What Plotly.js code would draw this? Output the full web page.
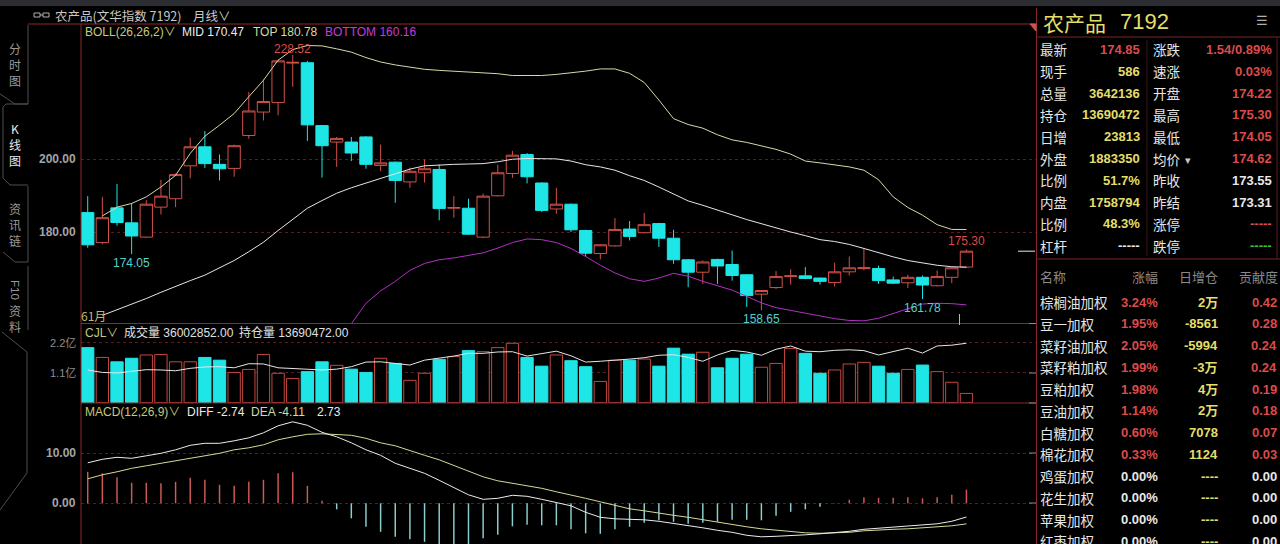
<!DOCTYPE html>
<html><head><meta charset="utf-8">
<script src="https://cdn.plot.ly/plotly-3.0.1.min.js"></script>
<style>html,body{margin:0;padding:0;background:#000;overflow:hidden}#chart{width:1280px;height:544px}</style>
</head><body><div id="chart"></div>
<script>
// ---------- data (monthly) ----------
const openP  = [185.4,177.2,186.7,182.6,178.7,186.9,189.2,198.2,203.4,198.6,197.5,206.5,212.9,215.5,226.3,226.4,209.2,204.7,204.7,206.1,198.3,199.2,193.8,196.3,197.2,186.6,186.6,178.7,190.0,196.1,201.3,193.5,186.4,187.7,180.5,174.2,176.3,180.9,179.9,182.4,178.4,172.5,169.1,172.6,171.2,168.4,163.1,164.9,167.9,168.1,167.5,166.3,169.2,170.1,170.1,167.0,166.2,167.7,165.4,167.7,170.5];
const highP  = [189.9,189.7,193.2,188.0,188.8,194.4,196.1,205.9,207.7,201.3,204.0,218.4,221.8,227.2,228.52,226.9,209.4,206.1,206.1,206.3,204.0,199.4,197.7,199.9,198.5,189.9,189.2,190.6,198.5,202.3,201.7,193.7,192.2,187.9,180.7,176.8,183.9,183.1,185.3,182.6,180.7,172.7,172.3,172.8,175.0,168.6,164.2,169.4,169.9,170.5,167.6,171.7,173.4,175.7,170.9,167.9,168.4,168.2,169.6,170.5,175.30];
const lowP   = [175.8,176.7,181.8,174.05,178.5,184.9,186.9,194.8,197.6,194.2,195.2,205.6,210.6,212.0,219.8,205.0,195.0,197.9,199.5,197.4,196.7,188.1,192.2,193.6,183.3,184.0,179.3,178.4,189.8,194.9,193.4,185.6,185.1,180.1,173.4,172.6,176.1,177.8,179.7,176.0,171.4,165.0,165.9,165.9,166.8,159.6,158.65,164.5,165.7,167.2,165.7,165.2,168.2,169.6,165.9,165.9,164.8,161.78,165.2,166.1,170.3];
const closeP = [176.6,184.0,182.7,179.0,187.7,189.9,195.8,203.4,198.8,197.4,203.7,213.2,215.8,226.9,226.5,209.4,203.7,205.7,201.7,198.6,199.0,194.2,196.7,197.4,186.5,186.8,179.5,189.9,196.3,201.1,195.2,186.0,187.7,180.7,174.3,176.6,180.8,178.9,182.1,178.4,172.5,169.1,171.9,170.8,168.2,162.7,164.1,167.9,168.1,167.4,166.6,169.2,170.3,170.3,166.8,166.1,167.7,165.6,167.9,170.3,174.85];

const bollUpper = [null,184.5,186.9,187.9,189.7,192.4,195.6,201.6,206.3,209.3,212.5,217.1,221.6,227.1,230.0,231.1,231.0,230.2,229.3,227.8,226.6,225.8,225.1,224.6,224.3,224.1,224.0,223.7,223.4,222.9,222.8,222.9,223.2,223.6,224.1,224.7,224.7,223.5,221.0,216.2,211.1,209.5,208.5,206.7,205.3,204.6,203.7,202.7,201.4,199.5,199.0,198.4,197.9,197.0,194.4,189.7,186.8,184.7,182.1,180.8,180.78];
const bollMid   = [null,157.3,158.8,160.4,161.9,163.6,165.3,166.8,168.3,170.2,172.3,174.7,177.3,180.5,183.6,186.6,188.7,190.7,192.2,193.5,194.7,195.9,197.3,198.2,198.5,198.6,198.7,198.8,199.3,200.0,200.2,200.2,200.1,199.5,198.5,197.9,197.0,195.5,194.2,192.4,190.6,188.6,187.4,186.2,184.8,183.5,182.3,181.3,180.1,179.1,178.0,177.5,176.7,175.6,174.4,173.3,172.3,171.6,171.0,170.6,170.47];
const bollLower = [null,130.1,130.7,132.9,134.1,134.8,135.0,132.0,130.3,131.1,132.1,132.9,134.0,134.1,137.4,142.3,146.8,151.6,155.0,160.6,164.0,166.6,169.6,171.5,172.5,173.0,173.6,174.4,175.7,177.2,178.2,178.0,177.2,175.6,173.4,171.0,168.9,167.3,166.6,167.5,168.8,168.0,166.6,165.5,164.2,162.5,160.7,159.4,158.6,158.0,157.2,156.4,155.9,155.8,156.5,157.8,159.0,160.4,160.6,160.5,160.16];

// volume in 亿
const volume = [2.02,1.66,1.50,1.63,1.75,1.77,1.50,1.50,1.66,1.56,1.11,1.22,1.77,1.08,0.89,1.14,1.50,1.37,1.23,1.11,1.63,1.44,0.82,1.08,1.59,1.69,1.91,1.87,2.02,2.18,1.66,1.34,1.75,1.54,1.32,0.78,1.56,1.56,1.60,1.34,2.00,1.78,1.85,1.28,1.63,1.78,1.30,1.44,1.99,1.81,1.08,1.20,1.42,1.48,1.34,1.08,1.22,1.38,1.14,0.75,0.34];
const volMA  = [1.20,1.11,1.09,1.14,1.21,1.20,1.17,1.26,1.31,1.32,1.28,1.43,1.42,1.28,1.26,1.23,1.20,1.23,1.32,1.49,1.50,1.44,1.38,1.56,1.63,1.71,1.81,1.81,1.86,1.87,1.71,1.81,1.89,1.72,1.49,1.52,1.55,1.60,1.65,1.74,1.76,1.66,1.52,1.75,1.92,1.86,1.74,1.96,2.08,1.89,1.87,1.92,1.94,1.91,1.75,1.87,2.00,1.82,2.08,2.11,2.18];

const macdDiff = [8.1,8.8,9.2,9.0,9.5,10.0,10.7,11.6,12.0,12.0,12.5,13.1,14.1,15.5,16.3,15.6,14.2,13.3,12.1,10.7,9.6,8.0,7.0,6.0,4.6,3.2,1.7,0.8,1.0,1.6,1.4,0.8,0.1,-0.5,-1.8,-2.8,-3.1,-3.2,-3.3,-3.6,-4.0,-4.5,-4.9,-5.4,-5.8,-6.4,-6.7,-6.6,-6.5,-6.3,-6.1,-5.9,-5.6,-5.2,-5.0,-4.8,-4.6,-4.4,-4.1,-3.6,-2.74];
const macdDea  = [4.9,5.7,6.3,7.0,7.5,8.0,8.4,8.9,9.5,10.0,10.7,11.1,11.7,12.7,13.3,13.8,13.9,13.7,13.6,13.0,12.1,11.5,10.5,9.6,8.7,7.6,6.5,5.3,4.5,4.0,3.5,3.0,2.3,1.7,1.0,0.3,-0.4,-1.1,-1.5,-2.0,-2.4,-2.8,-3.3,-3.8,-4.2,-4.7,-5.1,-5.4,-5.7,-5.9,-6.0,-5.9,-5.8,-5.5,-5.3,-5.2,-5.1,-4.9,-4.7,-4.5,-4.11];
const macdHist = [6.3,6.0,5.2,4.1,4.1,4.0,4.3,5.1,4.7,3.7,3.5,4.3,4.7,6.0,6.2,3.5,0.5,-1.2,-3.0,-4.7,-5.7,-6.7,-7.2,-7.7,-8.3,-8.6,-8.4,-7.0,-6.3,-4.6,-4.3,-4.4,-4.4,-5.2,-6.0,-6.1,-5.2,-4.7,-3.9,-3.4,-3.7,-4.1,-3.9,-3.7,-3.3,-3.3,-3.4,-2.5,-1.7,-1.2,-0.7,0.05,0.7,1.2,1.1,1.1,1.2,1.0,1.2,1.7,2.73];

const priceTicks = [180, 200];
const volTicks = [1.1, 2.2];
const volTickText = ['1.1亿', '2.2亿'];
const macdTicks = [0, 10];

// left side tabs
const tabChars = [['分','时','图'], ['K','线','图'], ['资','讯','链'], ['资','料']];
const tabTop = [48, 128, 208, 310];

// right panel quote
const quoteLabelsL = ['最新','现手','总量','持仓','日增','外盘','比例','内盘','比例','杠杆'];
const quoteValuesL = ['174.85','586','3642136','13690472','23813','1883350','51.7%','1758794','48.3%','-----'];
const quoteColorsL = ['r','y','y','y','y','y','y','y','y','w'];
const quoteLabelsR = ['涨跌','速涨','开盘','最高','最低','均价','昨收','昨结','涨停','跌停'];
const quoteValuesR = ['1.54/0.89%','0.03%','174.22','175.30','174.05','174.62','173.55','173.31','-----','-----'];
const quoteColorsR = ['r','r','r','r','r','r','w','w','r','g'];

const compNames  = ['棕榈油加权','豆一加权','菜籽油加权','菜籽粕加权','豆粕加权','豆油加权','白糖加权','棉花加权','鸡蛋加权','花生加权','苹果加权','红枣加权'];
const compChange = ['3.24%','1.95%','2.05%','1.99%','1.98%','1.14%','0.60%','0.33%','0.00%','0.00%','0.00%','0.00%'];
const compPosChg = ['2万','-8561','-5994','-3万','4万','2万','7078','1124','----','----','----','----'];
const compContrib= ['0.42','0.28','0.24','0.24','0.19','0.18','0.07','0.03','0.00','0.00','0.00','0.00'];

// ---------- helpers ----------
const W = 1280, H = 544;
const fx = v => v / W, fy = v => 1 - v / H;
const SANS = '"Liberation Sans", Arial, "Noto Sans CJK SC", sans-serif';
const CJK = '"Noto Sans CJK SC", "Liberation Sans", sans-serif';
const RED = '#d2504a', CYAN = '#1fe6e6', YEL = '#e4de6a', GRID = '#5e1a1a', BORDER = '#8c2828';
const TXTRED = '#dc4a4a', LOWC = '#55d0d0', GREY = '#a4a4a4';
const colorOf = {r: TXTRED, y: YEL, w: '#e8e8e8', g: '#3cc43c'};

const annotations = [], shapes = [];
function T(text, x, y, o = {}) {
  annotations.push({text, x: fx(x), y: fy(y), xref: 'paper', yref: 'paper', showarrow: false,
    xanchor: o.xa || 'left', yanchor: o.ya || 'middle', textangle: o.ang || 0, borderpad: 0,
    font: {family: o.ff || SANS, size: o.s || 12, color: o.c || '#e0e0e0', weight: o.w || 'normal'}});
}
function L(x0, y0, x1, y1, color, width) {
  shapes.push({type: 'line', xref: 'paper', yref: 'paper', x0: fx(x0), y0: fy(y0), x1: fx(x1), y1: fy(y1),
    line: {color: color, width: width || 1}});
}
function P(pts, color, fill) {
  const d = pts.map((p, i) => (i ? 'L' : 'M') + fx(p[0]).toFixed(5) + ',' + fy(p[1]).toFixed(5)).join(' ') + (fill ? ' Z' : '');
  const s = {type: 'path', xref: 'paper', yref: 'paper', path: d, line: {color: color, width: 1}};
  if (fill) s.fillcolor = fill;
  shapes.push(s);
}

const idx = closeP.map((_, i) => i);
const isUp = closeP.map((c, i) => c >= openP[i]);

// ---------- traces ----------
const traces = [];
traces.push({type: 'candlestick', x: idx, open: openP, high: highP, low: lowP, close: closeP,
  xaxis: 'x', yaxis: 'y', whiskerwidth: 0, hoverinfo: 'skip',
  increasing: {line: {color: RED, width: 1}, fillcolor: '#000000'},
  decreasing: {line: {color: CYAN, width: 1}, fillcolor: CYAN}});
traces.push({type: 'scatter', mode: 'lines', x: idx, y: bollUpper, xaxis: 'x', yaxis: 'y', line: {color: '#d8d8a8', width: 1}, hoverinfo: 'skip'});
traces.push({type: 'scatter', mode: 'lines', x: idx, y: bollMid, xaxis: 'x', yaxis: 'y', line: {color: '#e6e6e6', width: 1}, hoverinfo: 'skip'});
traces.push({type: 'scatter', mode: 'lines', x: idx, y: bollLower, xaxis: 'x', yaxis: 'y', line: {color: '#b430c4', width: 1}, hoverinfo: 'skip'});

traces.push({type: 'bar', x: idx, y: volume, xaxis: 'x', yaxis: 'y2', width: 0.84, hoverinfo: 'skip',
  marker: {color: isUp.map(u => u ? '#000000' : CYAN), line: {color: isUp.map(u => u ? '#c4483f' : CYAN), width: 1}}});
traces.push({type: 'scatter', mode: 'lines', x: idx, y: volMA, xaxis: 'x', yaxis: 'y2', line: {color: '#e6e6e6', width: 1}, hoverinfo: 'skip'});

traces.push({type: 'bar', x: idx, y: macdHist, xaxis: 'x', yaxis: 'y3', width: 0.1, hoverinfo: 'skip',
  marker: {color: macdHist.map(v => v >= 0 ? '#cf5a55' : '#8ccfcf'), line: {width: 0}}});
traces.push({type: 'scatter', mode: 'lines', x: idx, y: macdDea, xaxis: 'x', yaxis: 'y3', line: {color: '#d8d896', width: 1}, hoverinfo: 'skip'});
traces.push({type: 'scatter', mode: 'lines', x: idx, y: macdDiff, xaxis: 'x', yaxis: 'y3', line: {color: '#ececec', width: 1}, hoverinfo: 'skip'});

// ---------- frame / decorations ----------
shapes.push({type: 'rect', xref: 'paper', yref: 'paper', x0: 0, x1: 1, y0: fy(6), y1: 1, fillcolor: '#2b2d33', line: {width: 0}});
L(28, 24, 1036, 24, BORDER);
L(81, 24, 81, 544, BORDER);
L(1036.5, 8, 1036.5, 544, BORDER);
L(81, 323.5, 1036, 323.5, BORDER);
L(81, 403, 1036, 403, BORDER);
P([[1030, 24], [1036, 24], [1036, 31]], RED, RED);
// right panel lines
L(1037, 37, 1280, 37, '#7a2424');
L(1037, 259, 1280, 259, '#7a2424');
L(1147, 40, 1147, 256, '#3c1414');
L(1277, 37, 1277, 259, '#5a1a1a');
// right edge ticks
[323.5, 373, 403, 453, 503].forEach(y => L(1029, y, 1036, y, '#8a8a8a'));
// current price marker & cursor
shapes.push({type: 'line', xref: 'paper', yref: 'y', x0: fx(1018), x1: fx(1035), y0: closeP[closeP.length - 1], y1: closeP[closeP.length - 1], line: {color: '#e8e8e8', width: 1}});
L(959.5, 314, 959.5, 325, '#b8b8b8');
// left tabs
const TAB = '#4e4e4e';
P([[28, 25], [28, 104], [15, 104], [0, 94]], TAB);
P([[28, 104], [6, 104], [3, 107], [3, 178], [10, 185], [28, 185]], TAB);
P([[28, 186], [28, 262], [15, 262], [3, 252]], TAB);
L(28, 266, 28, 330, TAB);
P([[2, 332], [27, 352], [27, 473], [0, 510]], TAB);
// header icon
shapes.push({type: 'rect', xref: 'paper', yref: 'paper', x0: fx(34), x1: fx(40), y0: fy(17), y1: fy(13), line: {color: '#b0b0b0', width: 1}});
shapes.push({type: 'rect', xref: 'paper', yref: 'paper', x0: fx(43), x1: fx(49), y0: fy(17), y1: fy(13), line: {color: '#b0b0b0', width: 1}});
L(40, 15, 43, 15, '#b0b0b0');

// ---------- texts ----------
T('农产品(文华指数 7192)', 54, 15, {ff: CJK, s: 12.5, c: '#c8c8c8'});
T('月线∨', 192, 15, {ff: CJK, s: 12.5, c: '#c8c8c8'});

tabChars.forEach((chars, t) => chars.forEach((ch, k) =>
  T(ch, 15, tabTop[t] + 16.3 * k, {xa: 'center', ff: CJK, s: 12, c: t === 1 ? '#e8e8e8' : '#9a9a9a'})));
T('F10', 15, 290, {xa: 'center', ang: 90, s: 11.5, c: '#9a9a9a'});

const last = closeP.length - 1;
T('BOLL(26,26,2)∨', 84, 32, {c: '#c8c87a'});
T('MID ' + bollMid[last].toFixed(2), 181, 32, {c: '#ececec'});
T('TOP ' + bollUpper[last].toFixed(2), 252, 32, {c: '#d8d8a0'});
T('BOTTOM ' + bollLower[last].toFixed(2), 324, 32, {c: '#c63cd6'});
T('61月', 80, 315.5, {ff: CJK, c: '#c8b46a'});

T('CJL∨', 84, 332.5, {c: '#c8c87a'});
T('成交量 36002852.00', 123, 332.5, {c: '#e0e0e0'});
T('持仓量 13690472.00', 238, 332.5, {c: '#e0e0e0'});

T('MACD(12,26,9)∨', 84, 411.5, {c: '#c8c87a'});
T('DIFF ' + macdDiff[last].toFixed(2), 186, 411.5, {c: '#ececec'});
T('DEA ' + macdDea[last].toFixed(2), 250, 411.5, {c: '#d8d8a0'});
T(macdHist[last].toFixed(2), 316, 411.5, {c: '#ececec'});

// axis value labels (data-positioned)
priceTicks.forEach(v => annotations.push({xref: 'paper', yref: 'y', x: fx(78), y: v, text: v.toFixed(2), xanchor: 'right', yanchor: 'middle', showarrow: false, font: {family: SANS, size: 12, color: GREY, weight: 'bold'}}));
volTicks.forEach((v, k) => annotations.push({xref: 'paper', yref: 'y2', x: fx(78), y: v, text: volTickText[k], xanchor: 'right', yanchor: 'middle', showarrow: false, font: {family: SANS, size: 11, color: '#8e8e8e'}}));
macdTicks.forEach(v => annotations.push({xref: 'paper', yref: 'y3', x: fx(78), y: v, text: v.toFixed(2), xanchor: 'right', yanchor: 'middle', showarrow: false, font: {family: SANS, size: 12, color: GREY, weight: 'bold'}}));

// extreme labels on candles
const iMax = highP.indexOf(Math.max(...highP));
annotations.push({xref: 'x', yref: 'y', x: iMax, y: highP[iMax], text: highP[iMax].toFixed(2), xanchor: 'center', yanchor: 'bottom', yshift: -3, showarrow: false, font: {family: SANS, size: 12, color: TXTRED}});
annotations.push({xref: 'x', yref: 'y', x: last, y: highP[last], text: highP[last].toFixed(2), xanchor: 'center', yanchor: 'bottom', showarrow: false, font: {family: SANS, size: 12, color: TXTRED}});
[3, 46, 57].forEach(i => annotations.push({xref: 'x', yref: 'y', x: i, y: lowP[i], text: lowP[i].toFixed(2), xanchor: 'center', yanchor: 'top', showarrow: false, font: {family: SANS, size: 12, color: LOWC}}));

// right panel
T('农产品', 1042, 22, {ff: CJK, s: 21, c: YEL});
T('7192', 1119, 22, {s: 22, c: YEL});
T('☰', 1262, 21, {xa: 'center', s: 13, c: '#b0b0b0'});
quoteLabelsL.forEach((t, k) => {
  const y = 49.5 + 21.8 * k;
  T(t, 1039, y, {ff: CJK, s: 13.5, c: '#e6e6e6'});
  T(quoteValuesL[k], 1141, y, {xa: 'right', s: 13, w: 'bold', c: colorOf[quoteColorsL[k]]});
  T(quoteLabelsR[k], 1152, y, {ff: CJK, s: 13.5, c: '#e6e6e6'});
  T(quoteValuesR[k], 1273, y, {xa: 'right', s: 13, w: 'bold', c: colorOf[quoteColorsR[k]]});
});
T('▾', 1188, 49.5 + 21.8 * 5 + 1, {xa: 'center', s: 11, c: '#c8c8c8'});

T('名称', 1039, 276, {ff: CJK, s: 13, c: '#8a8a8a'});
T('涨幅', 1159, 276, {xa: 'right', ff: CJK, s: 13, c: '#8a8a8a'});
T('日增仓', 1219, 276, {xa: 'right', ff: CJK, s: 13, c: '#8a8a8a'});
T('贡献度', 1279, 276, {xa: 'right', ff: CJK, s: 13, c: '#8a8a8a'});
compNames.forEach((t, k) => {
  const y = 302 + 21.75 * k;
  const zero = compChange[k] === '0.00%';
  T(t, 1039, y, {ff: CJK, s: 13.5, c: '#e6e6e6'});
  T(compChange[k], 1159, y, {xa: 'right', s: 13, w: 'bold', c: zero ? '#e8e8e8' : TXTRED});
  T(compPosChg[k], 1219, y, {xa: 'right', ff: SANS, s: 13, w: 'bold', c: YEL});
  T(compContrib[k], 1278, y, {xa: 'right', s: 13, w: 'bold', c: zero ? '#e8e8e8' : TXTRED});
});

// ---------- layout ----------
const gridAxis = (domain, range, tickvals) => ({domain, range, tickmode: 'array', tickvals, showticklabels: false,
  ticks: '', showline: false, zeroline: false, showgrid: true, gridcolor: GRID, griddash: 'dot', gridwidth: 1,
  anchor: 'x', fixedrange: true});

const layout = {
  width: W, height: H, margin: {l: 0, r: 0, t: 0, b: 0},
  paper_bgcolor: '#000000', plot_bgcolor: '#000000', showlegend: false,
  boxgap: 0.16, boxgroupgap: 0, barmode: 'overlay',
  xaxis: {domain: [fx(81), fx(1036)], range: [-0.458, 64.75], showgrid: false, zeroline: false,
    showticklabels: false, ticks: '', showline: false, rangeslider: {visible: false}, fixedrange: true},
  yaxis: gridAxis([fy(323.5), fy(24)], [155.07, 236.99], priceTicks),
  yaxis2: gridAxis([fy(403), fy(324)], [-0.011, 2.886], volTicks),
  yaxis3: gridAxis([0, fy(403)], [-8.14, 20.06], macdTicks),
  annotations, shapes
};

Plotly.newPlot('chart', traces, layout, {staticPlot: true, displayModeBar: false});
</script>
</body></html>
